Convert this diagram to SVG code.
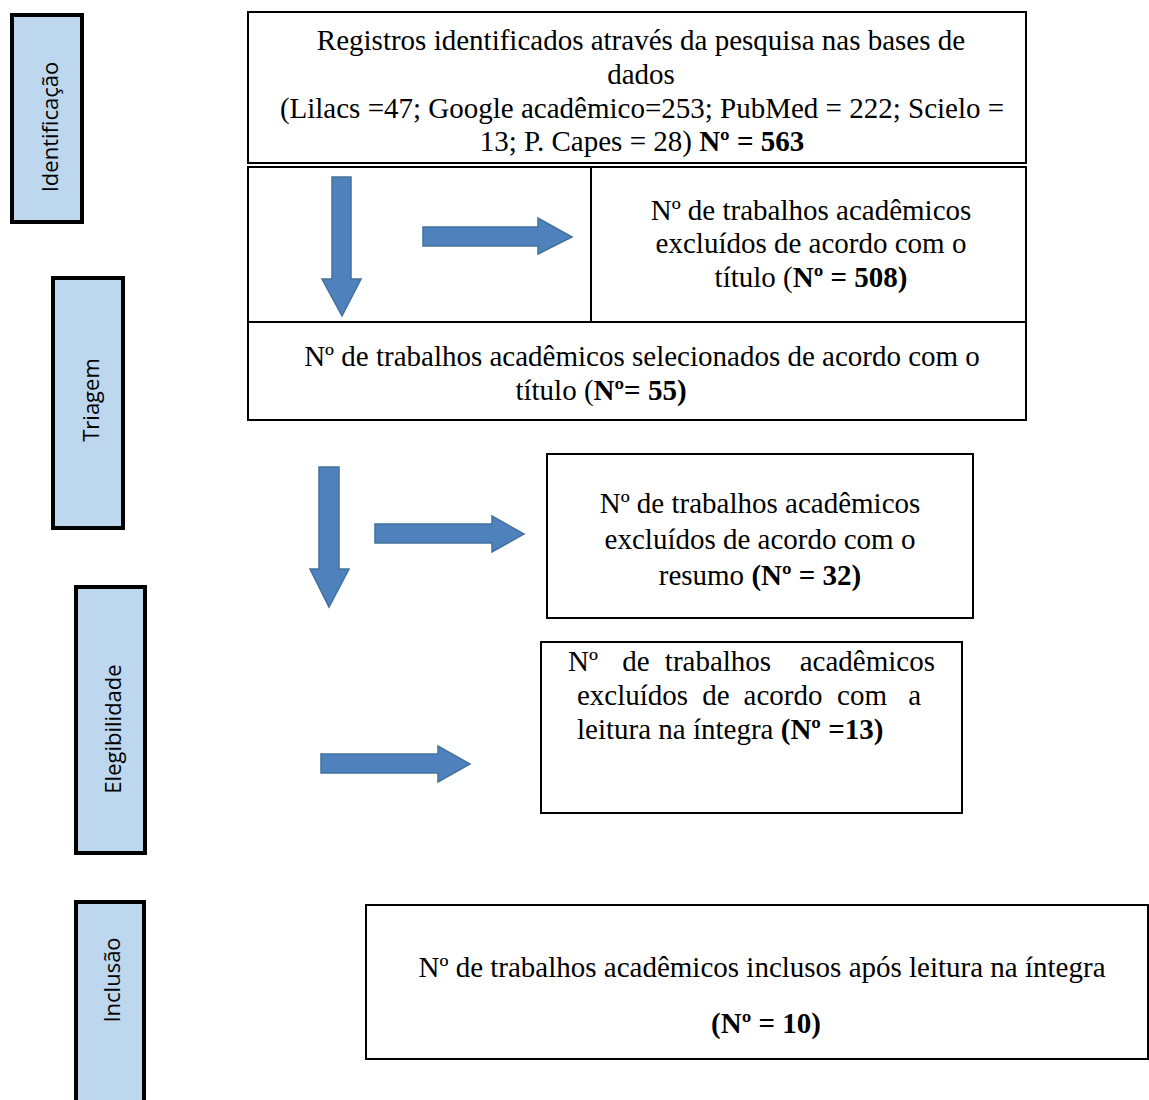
<svg xmlns="http://www.w3.org/2000/svg" width="1149" height="1100" viewBox="0 0 1149 1100">
<style>
.lab{fill:#BDD7EE;stroke:#000;stroke-width:4}
.lt{font-family:"Open Sans","Noto Sans",sans-serif;font-size:22px;fill:#000;text-anchor:middle}
.box{fill:#fff;stroke:#000;stroke-width:2}
.t{font-family:"Liberation Serif","Times New Roman",serif;font-size:29px;fill:#000}
.c{text-anchor:middle}
.b{font-weight:bold}
.arr{fill:#4F81BD;stroke:#41719C;stroke-width:1.5}
</style>
<rect width="1149" height="1100" fill="#fff"/>
<g id="label-identificacao"><rect class="lab" x="12" y="15" width="70" height="207"/><text class="lt" transform="translate(58,127) rotate(-90)">Identificação</text></g>
<g id="label-triagem"><rect class="lab" x="53" y="278" width="70" height="250"/><text class="lt" transform="translate(99,400) rotate(-90)">Triagem</text></g>
<g id="label-elegibilidade"><rect class="lab" x="76" y="587" width="69" height="266"/><text class="lt" transform="translate(121,729) rotate(-90)">Elegibilidade</text></g>
<g id="label-inclusao"><rect class="lab" x="76" y="902" width="68" height="210"/><text class="lt" transform="translate(120,980) rotate(-90)">Inclusão</text></g>

<g id="box-registros"><rect class="box" x="248" y="12" width="778" height="151"/>
<text class="t c" x="641" y="50">Registros identificados através da pesquisa nas bases de</text>
<text class="t c" x="641" y="84">dados</text>
<text class="t c" x="642" y="118">(Lilacs =47; Google acadêmico=253; PubMed = 222; Scielo =</text>
<text class="t c" x="642" y="151">13; P. Capes = 28) <tspan class="b">Nº = 563</tspan></text>
</g>
<g id="box-frame"><rect class="box" x="248" y="167" width="778" height="155"/></g>
<g id="box-excl-titulo"><rect class="box" x="591" y="167" width="435" height="155"/>
<text class="t c" x="811" y="220">Nº de trabalhos acadêmicos</text>
<text class="t c" x="811" y="253">excluídos de acordo com o</text>
<text class="t c" x="811" y="287">título (<tspan class="b">Nº = 508)</tspan></text>
</g>
<g id="box-selecionados"><rect class="box" x="248" y="322" width="778" height="98"/>
<text class="t c" x="642" y="366">Nº de trabalhos acadêmicos selecionados de acordo com o</text>
<text class="t c" x="601" y="400">título (<tspan class="b">Nº= 55)</tspan></text>
</g>
<g id="box-excl-resumo"><rect class="box" x="547" y="454" width="426" height="164"/>
<text class="t c" x="760" y="513">Nº de trabalhos acadêmicos</text>
<text class="t c" x="760" y="549">excluídos de acordo com o</text>
<text class="t c" x="760" y="585">resumo <tspan class="b">(Nº = 32)</tspan></text>
</g>
<g id="box-excl-leitura"><rect class="box" x="541" y="642" width="421" height="171"/>
<text class="t" y="671"><tspan x="568">Nº</tspan><tspan x="636" text-anchor="middle">de</tspan><tspan x="718" text-anchor="middle">trabalhos</tspan><tspan x="935" text-anchor="end">acadêmicos</tspan></text>
<text class="t" y="705"><tspan x="577">excluídos</tspan><tspan x="716" text-anchor="middle">de</tspan><tspan x="783" text-anchor="middle">acordo</tspan><tspan x="862" text-anchor="middle">com</tspan><tspan x="921" text-anchor="end">a</tspan></text>
<text class="t" x="577" y="739">leitura na íntegra <tspan class="b">(Nº =13)</tspan></text>
</g>
<g id="box-inclusos"><rect class="box" x="366" y="905" width="782" height="154"/>
<text class="t c" x="762" y="977">Nº de trabalhos acadêmicos inclusos após leitura na íntegra</text>
<text class="t c b" x="766" y="1033">(Nº = 10)</text>
</g>

<g id="connectors">
<path class="arr" d="M332,177 H351 V279 H361 L342,316 L322,279 H332 Z"/>
<path class="arr" d="M423,227 H538 V218 L572,237 L538,254 V246 H423 Z"/>
<path class="arr" d="M319,467 H339 V569 H349 L329,607 L310,569 H319 Z"/>
<path class="arr" d="M375,524 H492 V516 L524,534 L492,552 V543 H375 Z"/>
<path class="arr" d="M321,754 H438 V746 L470,764 L438,782 V773 H321 Z"/>
</g>
</svg>
